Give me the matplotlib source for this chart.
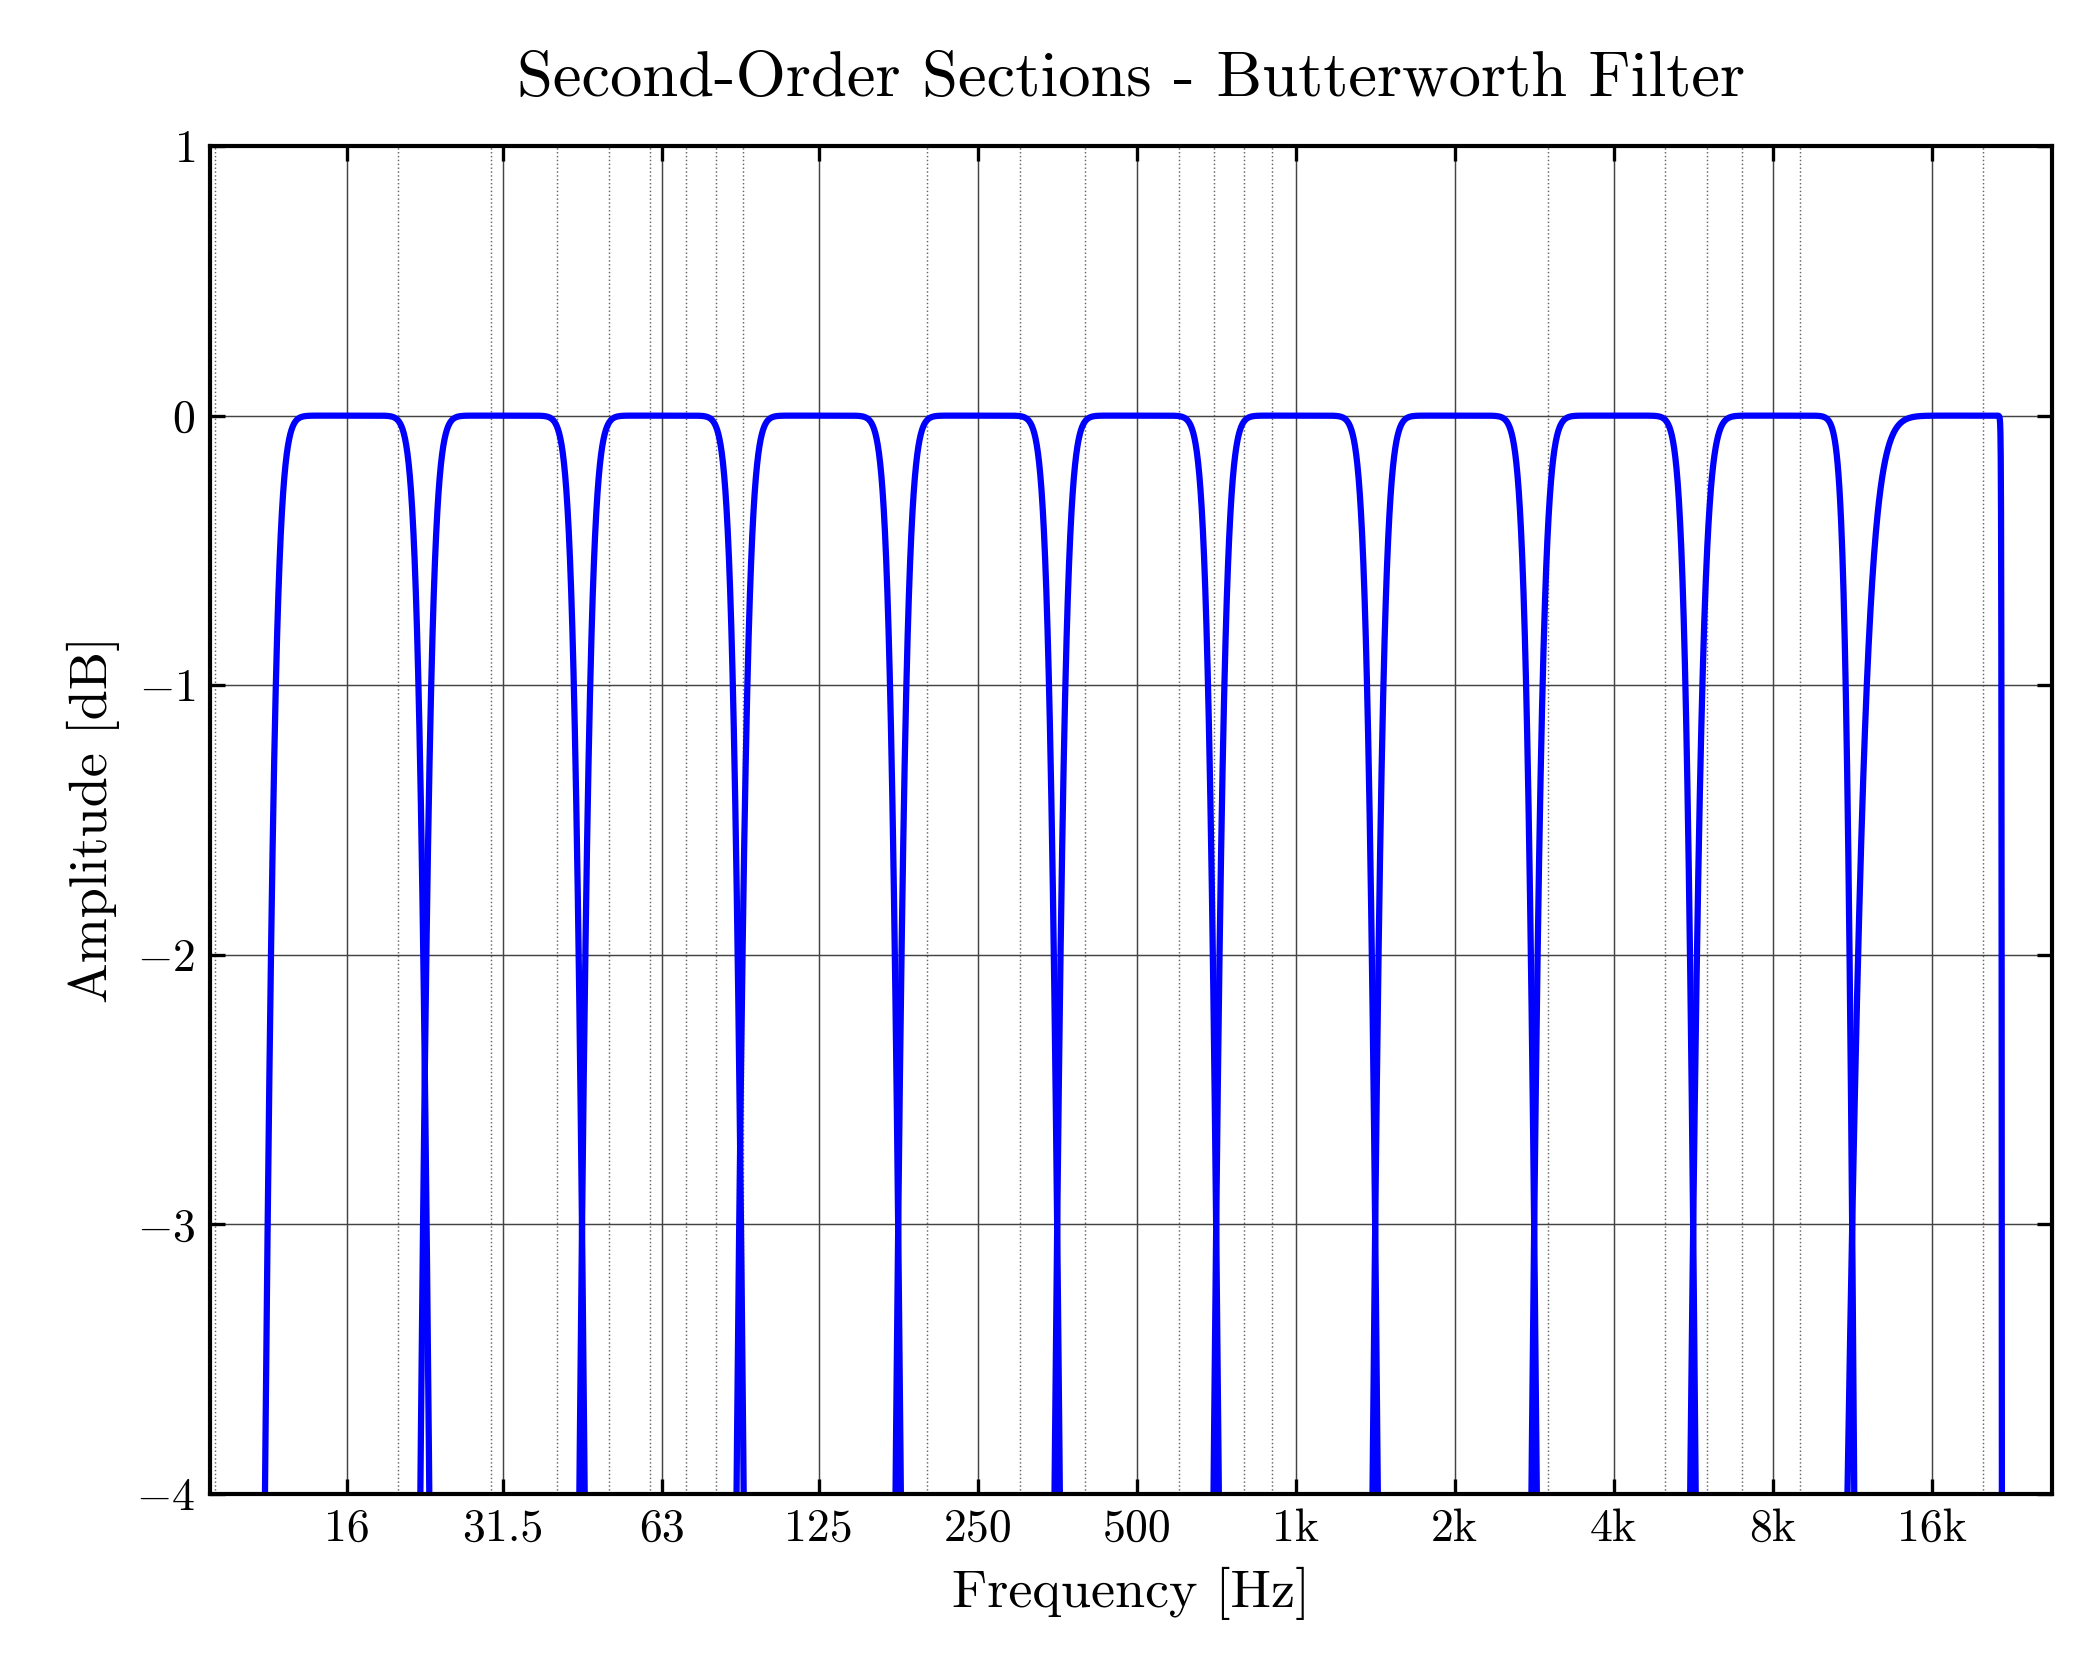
import numpy as np
import matplotlib
matplotlib.use("Agg")
import matplotlib.pyplot as plt
from matplotlib.ticker import FixedLocator, LogLocator, NullFormatter

plt.rcParams['font.family'] = 'serif'
plt.rcParams['font.serif'] = ['cmr10']
plt.rcParams['mathtext.fontset'] = 'cm'
plt.rcParams['axes.unicode_minus'] = False

# Octave band centre frequencies (Hz) and filter parameters
centers = [16, 31.5, 63, 125, 250, 500, 1000, 2000, 4000, 8000, 16000]
tick_labels = ['16', '31.5', '63', '125', '250', '500', '1k', '2k', '4k', '8k', '16k']
fs = 44100
order = 6
yticks = [1, 0, -1, -2, -3, -4]

f = np.logspace(np.log10(8.9), np.log10(fs / 2 * 0.9999), 6000)

fig = plt.figure(figsize=(7, 5.6), dpi=300)
ax = fig.add_axes([0.10, 0.111, 0.877, 0.802])

def warp(x):
    return np.tan(np.pi * np.asarray(x, float) / fs)

for fc in centers:
    lo = fc / np.sqrt(2)
    hi = min(fc * np.sqrt(2), fs / 2 * 0.985)
    wl, wh, w = warp(lo), warp(hi), warp(f)
    w0sq = wl * wh
    B = wh - wl
    ratio = (w**2 - w0sq) / (w * B)
    mag2 = 1.0 / (1.0 + ratio**(2 * order))
    db = 10 * np.log10(mag2)
    ax.semilogx(f, db, color='#0000ff', lw=1.5)

ax.set_xlim(8.8, 27000)
ax.set_ylim(-4, 1)
ax.xaxis.set_major_locator(FixedLocator(centers))
ax.set_xticklabels(tick_labels)
ax.xaxis.set_minor_locator(LogLocator(base=10, subs=np.arange(2, 10)))
ax.xaxis.set_minor_formatter(NullFormatter())
ax.set_yticks(yticks)
ax.set_yticklabels(['$%d$' % v if v >= 0 else '$-%d$' % (-v) for v in yticks])
ax.grid(True, which='major', color='#444444', lw=0.35, ls='-')
ax.grid(True, which='minor', color='#666666', lw=0.35, ls=':')
ax.tick_params(which='both', direction='in', top=True, right=True, labelsize=11)
ax.tick_params(which='minor', length=0)
for s in ax.spines.values():
    s.set_linewidth(1.0)
ax.set_xlabel('Frequency [Hz]', fontsize=13)
ax.set_ylabel('Amplitude [dB]', fontsize=13)
ax.set_title('Second-Order Sections - Butterworth Filter', fontsize=15.5, pad=12)
fig.savefig('out.png', dpi=300)
